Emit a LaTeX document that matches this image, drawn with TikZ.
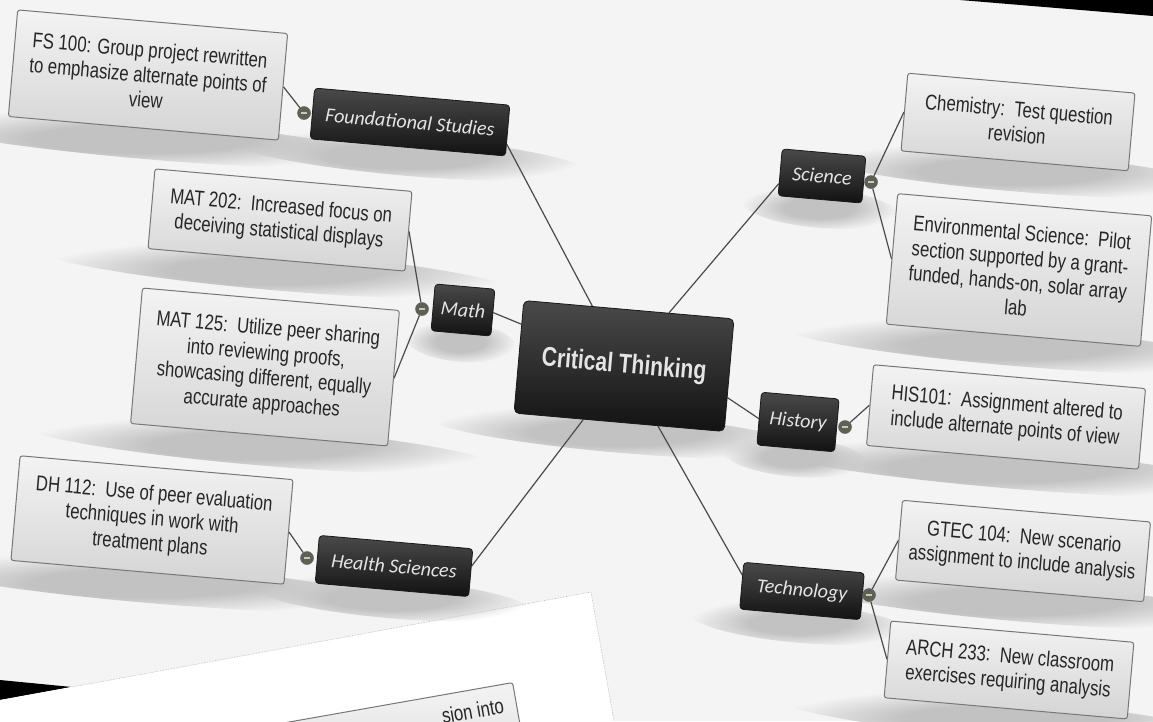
\documentclass[tikz,border=0pt]{standalone}
\usepackage{fontspec}
\usetikzlibrary{fadings,calc}

% fonts
\newfontfamily\childfont[FakeStretch=0.78]{Liberation Sans}
\newfontfamily\branchfont{Carlito}
\newfontfamily\corefont[FakeStretch=0.78]{Liberation Sans}

% colours
\definecolor{slidebg}{HTML}{F4F4F4}
\definecolor{boxtop}{HTML}{F3F3F3}
\definecolor{boxbot}{HTML}{D4D4D4}
\definecolor{boxline}{HTML}{777777}
\definecolor{darktop}{HTML}{4A4A4A}
\definecolor{darkbot}{HTML}{121212}
\definecolor{btnfill}{HTML}{5C6152}
\definecolor{linkgray}{HTML}{4A4A4A}
\definecolor{labelgray}{HTML}{E4E4E4}
\definecolor{textgray}{HTML}{262626}

% fading with a solid core and a soft rim, for shadows
\pgfdeclareradialshading{bandshade}{\pgfpointorigin}{color(0bp)=(white); color(11bp)=(white); color(25bp)=(black); color(50bp)=(black)}
\pgfdeclarefading{softband}{\pgfuseshading{bandshade}}

\pgfdeclarelayer{bg}
\pgfdeclarelayer{shade}
\pgfsetlayers{bg,shade,main}

% soft shadow under a box: node name, x radius, distance below
\newcommand\undershadow[3]{%
  \begin{pgfonlayer}{shade}
    \fill[black!24, path fading=softband, shift={(#1.south)}, rotate=-5]
      (0,#3) ellipse [x radius=#2, y radius=20];
  \end{pgfonlayer}}

\tikzset{
  cardbase/.style={draw=boxline, line width=1pt, rounded corners=2.5pt,
    top color=boxtop, bottom color=boxbot, align=center,
    font=\childfont\fontsize{21.5}{25}\selectfont, text=textgray, inner sep=2pt},
  childbox/.style={cardbase, rotate=-5},
  branchbox/.style={draw=black!90, line width=0.8pt, rounded corners=3.5pt,
    top color=darktop, bottom color=darkbot, rotate=-5, inner sep=2pt,
    font=\branchfont\itshape\fontsize{20}{22}\selectfont, text=labelgray},
  corebox/.style={branchbox, rounded corners=5pt,
    font=\corefont\bfseries\fontsize{27}{30}\selectfont},
  btn/.style={circle, minimum size=13pt, inner sep=0pt, fill=btnfill,
    draw=black!60, line width=0.5pt,
    path picture={\draw[white!78!black, line width=1.2pt]
      ([xshift=-3pt]path picture bounding box.center) --
      ([xshift=3pt]path picture bounding box.center);}},
  link/.style={draw=linkgray, line width=1.2pt},
}

\begin{document}
\begin{tikzpicture}[x=1pt, y=-1pt]
\useasboundingbox (0,0) rectangle (1153,721);
\clip (0,0) rectangle (1153,721);

% slides and the dark gaps around them
\begin{pgfonlayer}{bg}
  \fill[slidebg] (0,0) rectangle (1153,721);
  \fill[black] (960,0) -- (1153,0) -- (1153,16) -- cycle;
  \fill[black] (0,680) -- (72,687) -- (0,700) -- cycle;
  \fill[white] (0,700) -- (591,592) -- (614,721) -- (0,721) -- cycle;
  \draw[black!30, densely dotted, line width=0.6pt] (72,687) -- (591,592) -- (614,721);
\end{pgfonlayer}

% central topic
\node[corebox, minimum width=211pt, minimum height=113pt] (ct) at (624,366) {Critical Thinking};

% branches
\node[branchbox, minimum width=196pt, minimum height=51pt] (fs) at (410,122) {Foundational Studies};
\node[branchbox, minimum width=60pt, minimum height=47pt] (math) at (463,310) {Math};
\node[branchbox, minimum width=154pt, minimum height=48pt] (hs) at (394,566) {Health Sciences};
\node[branchbox, minimum width=84pt, minimum height=47pt] (sci) at (822,176) {Science};
\node[branchbox, minimum width=78pt, minimum height=53pt] (hist) at (798,422) {History};
\node[branchbox, minimum width=121pt, minimum height=47pt] (tech) at (802,591) {Technology};

% course notes
\node[childbox, minimum width=271pt, minimum height=107pt] (fs100) at (148,75)
  {FS 100: Group project rewritten\\to emphasize alternate points of\\view};
\node[childbox, minimum width=258pt, minimum height=80pt] (mat202) at (280,220)
  {MAT 202:\ \ Increased focus on\\deceiving statistical displays};
\node[childbox, minimum width=258pt, minimum height=136pt] (mat125) at (265,367)
  {MAT 125:\ \ Utilize peer sharing\\into reviewing proofs,\\showcasing different, equally\\accurate approaches};
\node[childbox, minimum width=274pt, minimum height=105pt] (dh112) at (152,520)
  {DH 112:\ \ Use of peer evaluation\\techniques in work with\\treatment plans};
\node[childbox, minimum width=228pt, minimum height=78pt] (chem) at (1018,122)
  {Chemistry:\ \ Test question\\revision};
\node[childbox, minimum width=255pt, minimum height=131pt] (env) at (1019,270)
  {Environmental Science:\ \ Pilot\\section supported by a grant-\\funded, hands-on, solar array\\lab};
\node[childbox, minimum width=273pt, minimum height=81pt] (his101) at (1006,417)
  {HIS101:\ \ Assignment altered to\\include alternate points of view};
\node[childbox, minimum width=249pt, minimum height=80pt] (gtec) at (1023,551)
  {GTEC 104:\ \ New scenario\\assignment to include analysis};
\node[childbox, minimum width=244pt, minimum height=77pt] (arch) at (1009,670)
  {ARCH 233:\ \ New classroom\\exercises requiring analysis};

% collapse buttons
\node[btn] (fsbtn) at (304,113) {};
\node[btn] (mathbtn) at (422,309) {};
\node[btn] (hsbtn) at (307,558) {};
\node[btn] (scibtn) at (871,182) {};
\node[btn] (histbtn) at (845,427) {};
\node[btn] (techbtn) at (869,595) {};

% card on the next slide
\node[cardbase, rotate=10, anchor=north east, minimum width=330pt, minimum height=90pt] (nextcard) at (513,682) {};
\node[rotate=10, anchor=base east, inner sep=0pt, font=\childfont\fontsize{21.5}{25}\selectfont, text=textgray] (nexttext) at (505,713) {sion into};

% shadows
\undershadow{ct}{195}{10}
\undershadow{fs}{180}{8}
\undershadow{math}{55}{8}
\undershadow{hs}{140}{8}
\undershadow{sci}{78}{8}
\undershadow{hist}{72}{8}
\undershadow{tech}{110}{8}
\undershadow{fs100}{250}{10}
\undershadow{mat202}{240}{10}
\undershadow{mat125}{240}{10}
\undershadow{dh112}{255}{10}
\undershadow{chem}{212}{10}
\undershadow{env}{238}{10}
\undershadow{his101}{255}{10}
\undershadow{gtec}{232}{10}
\undershadow{arch}{228}{10}

% connectors
\begin{pgfonlayer}{shade}
  \draw[link] (fs.-8) -- (ct);
  \draw[link] (math.east) -- (ct);
  \draw[link] (hs.5) -- (ct);
  \draw[link] (sci.195) -- (ct);
  \draw[link] (ct.-12) -- (hist.west);
  \draw[link] (ct) -- (tech.170);
  \draw[link] (fsbtn) -- (fs100.east);
  \draw[link] (mathbtn) -- (mat202.east);
  \draw[link] (mathbtn) -- (mat125.east);
  \draw[link] (hsbtn) -- (dh112.east);
  \draw[link] (scibtn) -- (chem.west);
  \draw[link] (scibtn) -- (env.west);
  \draw[link] (histbtn) -- (his101.west);
  \draw[link] (techbtn) -- (gtec.west);
  \draw[link] (techbtn) -- (arch.west);
\end{pgfonlayer}
\end{tikzpicture}
\end{document}
